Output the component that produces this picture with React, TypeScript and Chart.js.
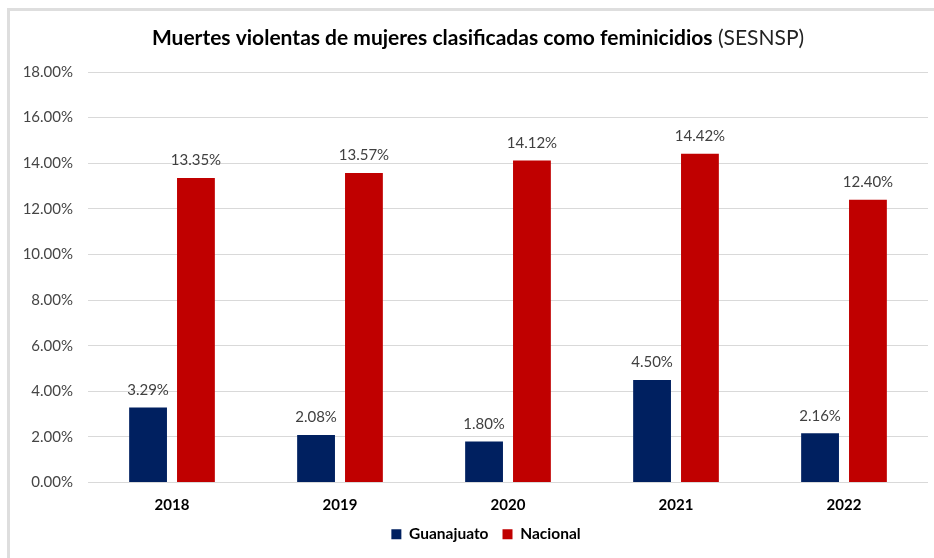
import React, { useEffect, useRef } from "react";
import { Chart, registerables } from "chart.js";

Chart.register(...registerables);

const categories = ["2018", "2019", "2020", "2021", "2022"];
const guanajuato = [3.29, 2.08, 1.8, 4.5, 2.16];
const nacional = [13.35, 13.57, 14.12, 14.42, 12.4];
const titleBold = "Muertes violentas de mujeres clasificadas como feminicidios";
const titleNormal = " (SESNSP)";

const FONT = "Lato, 'Open Sans', sans-serif";

const framePlugin = {
  id: "frame",
  beforeDraw(chart: any) {
    const ctx = chart.ctx;
    ctx.save();
    ctx.fillStyle = "#ffffff";
    ctx.fillRect(0, 0, chart.width, chart.height);
    ctx.fillStyle = "#dedede";
    ctx.fillRect(7, 8, chart.width - 7, 3);
    ctx.fillRect(7, 8, 3, chart.height - 8);
    ctx.restore();
  },
};

const legendShiftPlugin = {
  id: "legendShift",
  afterLayout(chart: any) {
    if (chart.legend) {
      chart.legend.left += 17;
      chart.legend.right += 17;
    }
  },
};

const titlePlugin = {
  id: "mixedTitle",
  afterDraw(chart: any) {
    const ctx = chart.ctx;
    ctx.save();
    ctx.textBaseline = "middle";
    ctx.fillStyle = "#000000";
    ctx.font = `bold 21px ${FONT}`;
    const w1 = ctx.measureText(titleBold).width;
    ctx.font = `21px ${FONT}`;
    const w2 = ctx.measureText(titleNormal).width;
    const cx = 478;
    let x = cx - (w1 + w2) / 2;
    ctx.textAlign = "left";
    ctx.font = `bold 21px ${FONT}`;
    ctx.fillText(titleBold, x, 38);
    x += w1;
    ctx.font = `21px ${FONT}`;
    ctx.fillStyle = "#222222";
    ctx.fillText(titleNormal, x, 38);
    ctx.restore();
  },
};

const labelPlugin = {
  id: "barLabels",
  afterDatasetsDraw(chart: any) {
    const ctx = chart.ctx;
    ctx.save();
    ctx.font = `15px ${FONT}`;
    ctx.fillStyle = "#404040";
    ctx.textAlign = "center";
    ctx.textBaseline = "bottom";
    chart.data.datasets.forEach((ds: any, i: number) => {
      const meta = chart.getDatasetMeta(i);
      meta.data.forEach((bar: any, j: number) => {
        ctx.fillText(Number(ds.data[j]).toFixed(2) + "%", bar.x, bar.y - 10);
      });
    });
    ctx.restore();
  },
};

export default function App() {
  const ref = useRef<HTMLCanvasElement | null>(null);
  useEffect(() => {
    if (!ref.current) return;
    const chart = new Chart(ref.current, {
      type: "bar",
      data: {
        labels: categories,
        datasets: [
          {
            label: "Guanajuato",
            data: guanajuato,
            backgroundColor: "#002060",
            categoryPercentage: 0.57,
            barPercentage: 0.79,
          },
          {
            label: "Nacional",
            data: nacional,
            backgroundColor: "#C00000",
            categoryPercentage: 0.57,
            barPercentage: 0.79,
          },
        ],
      },
      plugins: [framePlugin, legendShiftPlugin, titlePlugin, labelPlugin],
      options: {
        animation: false,
        responsive: false,
        maintainAspectRatio: false,
        layout: { padding: { left: 10, right: 6, top: 72, bottom: 6 } },
        plugins: {
          title: { display: false },
          tooltip: { enabled: false },
          legend: {
            position: "bottom",
            labels: {
              boxWidth: 10,
              boxHeight: 10,
              padding: 14,
              color: "#000000",
              font: { family: FONT, size: 15.5, weight: "bold" },
            },
          },
        },
        scales: {
          x: {
            grid: { display: false },
            border: { display: false },
            ticks: {
              color: "#000000",
              font: { family: FONT, size: 15, weight: "bold" },
              padding: 6,
            },
            afterFit(scale: any) {
              scale.height = 30;
            },
          },
          y: {
            min: 0,
            max: 18,
            grid: { color: "#d9d9d9", lineWidth: 1, drawTicks: false },
            border: { display: false },
            ticks: {
              stepSize: 2,
              padding: 15,
              color: "#454545",
              font: { family: FONT, size: 15 },
              callback: (v: any) => Number(v).toFixed(2) + "%",
            },
            afterFit(scale: any) {
              scale.width = 78;
            },
          },
        },
      },
    } as any);
    return () => chart.destroy();
  }, []);
  return (
    <div style={{ position: "fixed", left: 0, top: 0, width: 934, height: 558 }}>
      <canvas ref={ref} width={934} height={558} style={{ width: 934, height: 558 }} />
    </div>
  );
}
